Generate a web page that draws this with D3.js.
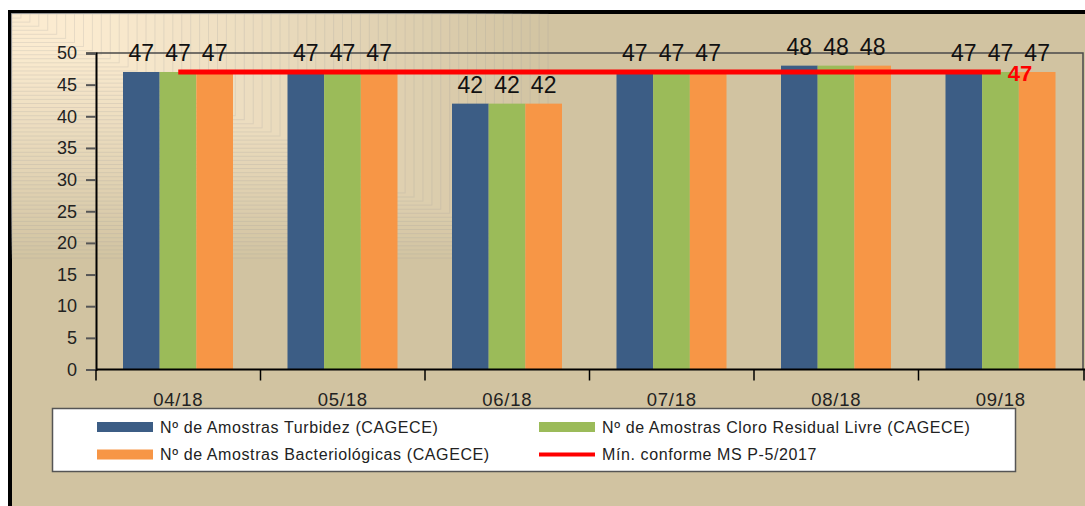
<!DOCTYPE html>
<html>
<head>
<meta charset="utf-8">
<script src="https://cdn.jsdelivr.net/npm/d3@7"></script>
<style>
  body { margin: 0; background: #fff; }
  svg { display: block; font-family: "Liberation Sans", Arial, sans-serif; }
</style>
</head>
<body>
<div id="chart"></div>
<script>
// chart data
const categories = ["04/18", "05/18", "06/18", "07/18", "08/18", "09/18"];
const turbidez = [47, 47, 42, 47, 48, 47];
const cloro = [47, 47, 42, 47, 48, 47];
const bacterio = [47, 47, 42, 47, 48, 47];
const minimo = [47, 47, 47, 47, 47, 47];
const yTicks = [0, 5, 10, 15, 20, 25, 30, 35, 40, 45, 50];
const seriesNames = [
  "Nº de Amostras Turbidez (CAGECE)",
  "Nº de Amostras Cloro Residual Livre (CAGECE)",
  "Nº de Amostras Bacteriológicas (CAGECE)",
  "Mín. conforme MS P-5/2017"
];

const width = 1085, height = 506;
const colors = ["#3C5D85", "#9BBB59", "#F79646"];
const tan = "#D1C3A1", light = "#FBEBD0";

const svg = d3.select("#chart").append("svg")
  .attr("width", width)
  .attr("height", height);

// outer frame
svg.append("rect")
  .attr("x", 10).attr("y", 12)
  .attr("width", width + 10).attr("height", height + 10)
  .attr("fill", tan)
  .attr("stroke", "#000")
  .attr("stroke-width", 4);

// rectangular gradient anchored top-left (stepped like the original)
const gW = 536, gH = 244, steps = 60;
const gcol = d3.interpolateRgb(tan, light);
svg.append("g")
  .selectAll("rect")
  .data(d3.range(steps))
  .enter()
  .append("rect")
  .attr("x", 12).attr("y", 14)
  .attr("width", d => gW * (1 - d / steps))
  .attr("height", d => gH * (1 - d / steps))
  .attr("fill", d => gcol(Math.min(1, (d + 1) / steps * 1.15)))
  .attr("stroke", "rgba(160,160,160,0.22)")
  .attr("stroke-width", 1);

// plot area
const pLeft = 96, pRight = 1083, pTop = 53, pBottom = 369.5;

const x = d3.scaleBand().domain(categories).range([pLeft, pRight]).paddingInner(0).paddingOuter(0);
const inner = d3.scaleBand().domain([0, 1, 2]).range([27, x.bandwidth() - 27.5]).padding(0);
const y = d3.scaleLinear().domain([0, 50]).range([pBottom, pTop]);

// plot frame top / right
svg.append("path")
  .attr("d", `M${pLeft},${pTop}H${pRight}V${pBottom}`)
  .attr("fill", "none")
  .attr("stroke", "#4a4a4a")
  .attr("stroke-width", 1.5);

// bars
const allSeries = [turbidez, cloro, bacterio];
allSeries.forEach((vals, si) => {
  svg.append("g")
    .selectAll("rect")
    .data(vals)
    .enter()
    .append("rect")
    .attr("x", (d, i) => x(categories[i]) + inner(si))
    .attr("y", d => y(d))
    .attr("width", inner.bandwidth())
    .attr("height", d => pBottom - y(d))
    .attr("fill", colors[si]);
});

// y axis
const yAxis = svg.append("g")
  .attr("transform", `translate(${pLeft},0)`)
  .call(d3.axisLeft(y).tickValues(yTicks).tickSize(10).tickPadding(9));
yAxis.select(".domain").attr("stroke", "#000").attr("stroke-width", 2);
yAxis.selectAll(".tick line").attr("stroke", "#555").attr("stroke-width", 2);
yAxis.selectAll(".tick text")
  .attr("font-size", 18)
  .attr("fill", "#222")
  .attr("font-family", "Liberation Sans, Arial, sans-serif");

// x axis (labels at centres, ticks at band boundaries)
const xAxis = svg.append("g")
  .attr("transform", `translate(0,${pBottom})`)
  .call(d3.axisBottom(x).tickSize(0).tickPadding(23.5));
xAxis.select(".domain").remove();
xAxis.selectAll(".tick text")
  .attr("font-size", 18.5)
  .attr("letter-spacing", 0.7)
  .attr("fill", "#222")
  .attr("font-family", "Liberation Sans, Arial, sans-serif");
svg.append("line")
  .attr("x1", pLeft).attr("x2", width)
  .attr("y1", pBottom).attr("y2", pBottom)
  .attr("stroke", "#000").attr("stroke-width", 2);
svg.append("g")
  .selectAll("line")
  .data(categories)
  .enter()
  .append("line")
  .attr("x1", d => x(d)).attr("x2", d => x(d))
  .attr("y1", pBottom).attr("y2", pBottom + 11)
  .attr("stroke", "#000").attr("stroke-width", 1.5);
svg.append("line")
  .attr("x1", pRight + 1).attr("x2", pRight + 1)
  .attr("y1", pBottom).attr("y2", pBottom + 11)
  .attr("stroke", "#000").attr("stroke-width", 1.5);

// minimum line
const cx = c => x(c) + x.bandwidth() / 2;
svg.append("path")
  .datum(minimo)
  .attr("d", d3.line().x((d, i) => cx(categories[i])).y(d => y(d)))
  .attr("fill", "none")
  .attr("stroke", "#FF0000")
  .attr("stroke-width", 5);

// value labels
allSeries.forEach((vals, si) => {
  svg.append("g")
    .selectAll("text")
    .data(vals)
    .enter()
    .append("text")
    .attr("x", (d, i) => x(categories[i]) + inner(si) + inner.bandwidth() / 2)
    .attr("y", d => y(d) - 11)
    .attr("text-anchor", "middle")
    .attr("font-size", 23)
    .attr("fill", "#111")
    .text(d => d);
});

// red label at last point
const lastI = minimo.length - 1;
svg.append("text")
  .attr("x", cx(categories[lastI]) + 7)
  .attr("y", y(minimo[lastI]) + 9)
  .attr("font-size", 22)
  .attr("font-weight", "bold")
  .attr("fill", "#FF0000")
  .text(minimo[lastI]);

// legend
const lg = svg.append("g");
lg.append("rect")
  .attr("x", 52.5).attr("y", 408.5)
  .attr("width", 963).attr("height", 63)
  .attr("fill", "#fff")
  .attr("stroke", "#555")
  .attr("stroke-width", 1.5);

const legendPos = [
  { x: 97, y: 427 }, { x: 539, y: 427 },
  { x: 97, y: 454.5 }, { x: 539, y: 454.5 }
];
const legendColors = [colors[0], colors[1], colors[2], "#FF0000"];
const item = lg.selectAll("g.item")
  .data(seriesNames)
  .enter()
  .append("g")
  .attr("class", "item")
  .attr("transform", (d, i) => `translate(${legendPos[i].x},${legendPos[i].y})`);
item.append("rect")
  .attr("x", 0)
  .attr("y", (d, i) => i === 3 ? -2 : -5)
  .attr("width", 56)
  .attr("height", (d, i) => i === 3 ? 4 : 10)
  .attr("fill", (d, i) => legendColors[i]);
item.append("text")
  .attr("x", 63)
  .attr("y", 5.5)
  .attr("font-size", 16)
  .attr("letter-spacing", 0.6)
  .attr("fill", "#222")
  .text(d => d);
</script>
</body>
</html>
